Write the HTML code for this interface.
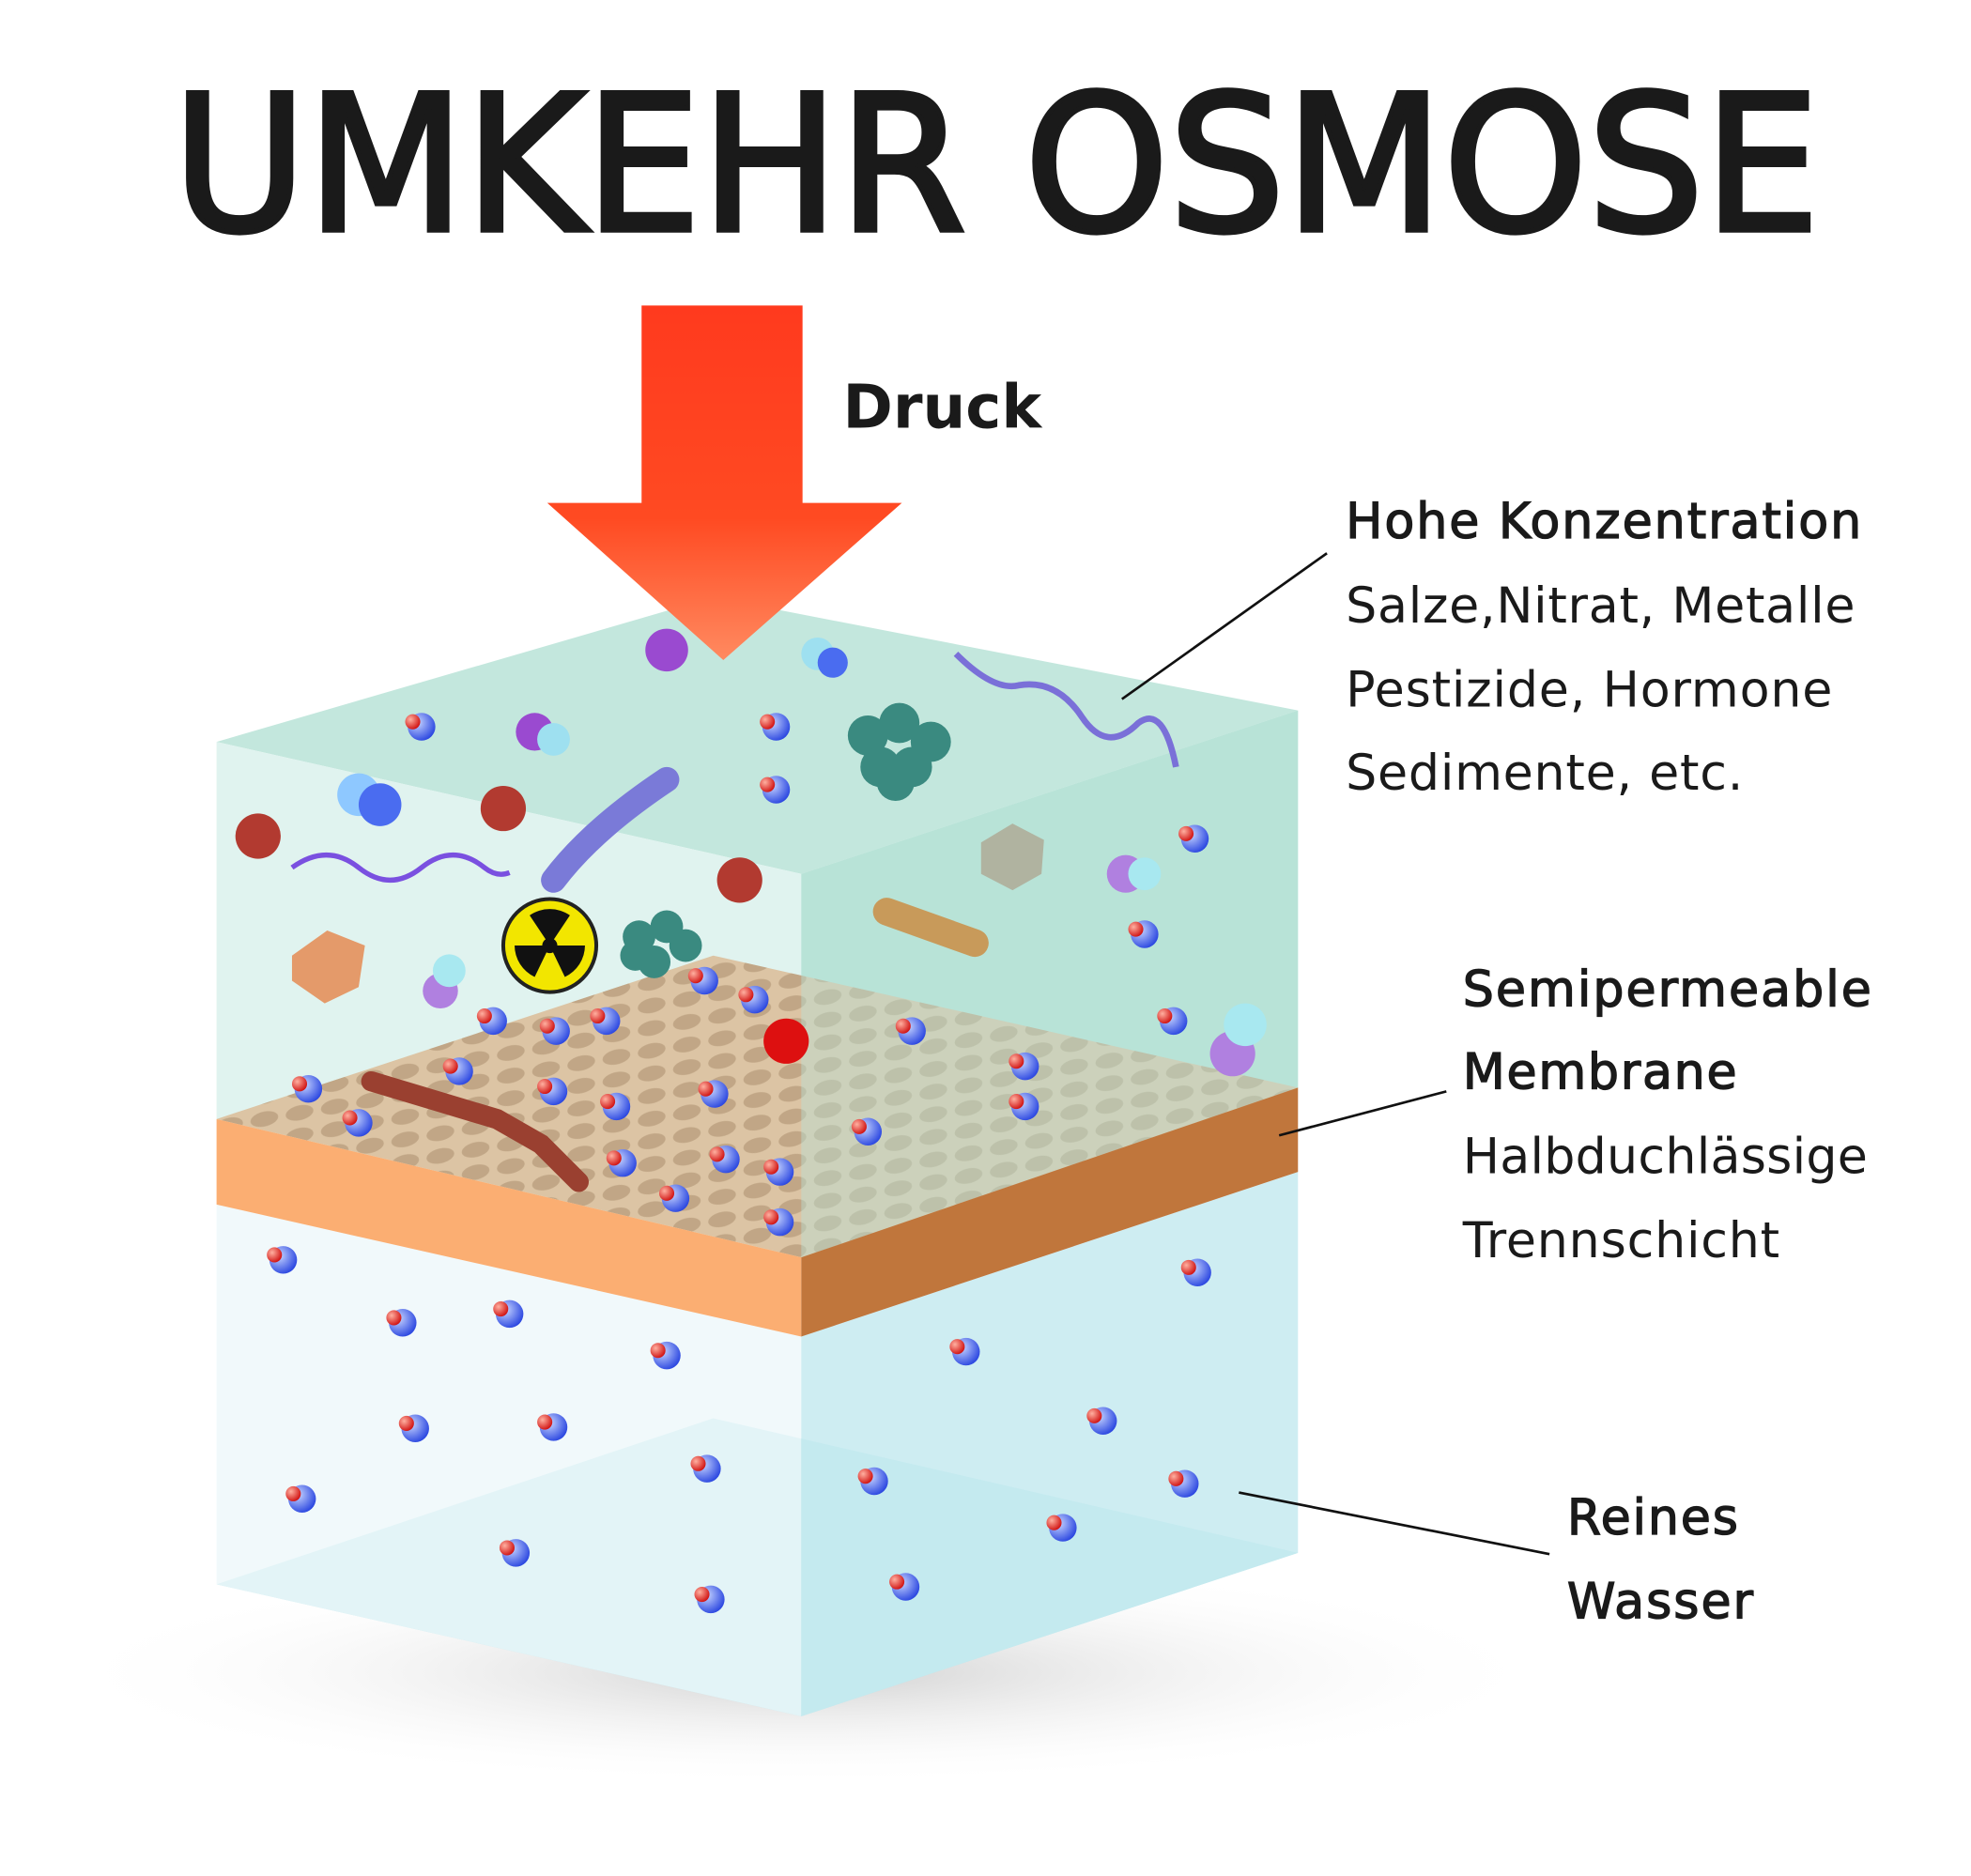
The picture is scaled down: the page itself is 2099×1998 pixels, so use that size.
<!DOCTYPE html>
<html><head><meta charset="utf-8"><style>
html,body{margin:0;padding:0;background:#fff}
svg{display:block}
text{font-family:"DejaVu Sans","Liberation Sans",sans-serif;fill:#1a1a1a}
</style></head><body>
<svg width="2099" height="1998" viewBox="0 0 1567 1492" xmlns="http://www.w3.org/2000/svg">
<defs>
<linearGradient id="ar" x1="0" y1="0" x2="0" y2="1">
<stop offset="0" stop-color="#ff3a1e"/><stop offset="0.6" stop-color="#ff4a22"/><stop offset="1" stop-color="#ff8a60"/></linearGradient>
<radialGradient id="sh" cx="0.5" cy="0.5" r="0.5"><stop offset="0" stop-color="#bbb" stop-opacity="0.7"/><stop offset="1" stop-color="#fff" stop-opacity="0"/></radialGradient>
<radialGradient id="bl" cx="0.35" cy="0.35" r="0.7"><stop offset="0" stop-color="#c8d6ff"/><stop offset="1" stop-color="#2a46e0"/></radialGradient>
<radialGradient id="rd" cx="0.35" cy="0.35" r="0.7"><stop offset="0" stop-color="#ffb0a0"/><stop offset="1" stop-color="#d01010"/></radialGradient>
<pattern id="holes" width="28" height="18" patternUnits="userSpaceOnUse" patternTransform="skewY(-10)">
<ellipse cx="14" cy="9" rx="11" ry="6" fill="#b59a7a" opacity="0.7"/></pattern>
<g id="m"><circle r="11" fill="url(#bl)"/><circle cx="-7" cy="-4" r="6" fill="url(#rd)"/></g>
</defs>
<ellipse cx="640" cy="1330" rx="600" ry="90" fill="url(#sh)"/>
<text x="792" y="183" font-size="150" stroke="#1a1a1a" stroke-width="4" text-anchor="middle" textLength="1310" lengthAdjust="spacingAndGlyphs">UMKEHR OSMOSE</text>
<polygon points="172,1260 567,1128 1032,1235 637,1365" fill="#b8e6ec"/>
<polygon points="172,958 637,1063 637,1365 172,1260" fill="#eef8fa" opacity="0.8"/>
<polygon points="637,1063 1032,932 1032,1235 637,1365" fill="#c6eaf0" opacity="0.85"/>
<polygon points="172,590 567,475 1032,565 637,695" fill="#c3e7dd"/>
<polygon points="172,590 637,695 637,1000 172,890" fill="#e0f3ef"/>
<polygon points="637,695 1032,565 1032,865 637,1000" fill="#b9e3d8"/>
<polygon points="172,890 567,760 1032,865 637,1000" fill="#dcc4a4"/>
<polygon points="172,890 567,760 1032,865 637,1000" fill="url(#holes)"/>
<polygon points="637,695 1032,565 1032,865 637,1000" fill="#b9e3d8" opacity="0.45"/>
<polygon points="172,890 637,1000 637,1063 172,958" fill="#fbae72"/>
<polygon points="637,1000 1032,865 1032,932 637,1063" fill="#c0763c"/>
<g>
<use href="#m" x="225" y="1002"/><use href="#m" x="320" y="1052"/><use href="#m" x="405" y="1045"/><use href="#m" x="530" y="1078"/><use href="#m" x="330" y="1136"/><use href="#m" x="440" y="1135"/><use href="#m" x="240" y="1192"/><use href="#m" x="410" y="1235"/><use href="#m" x="562" y="1168"/><use href="#m" x="565" y="1272"/><use href="#m" x="695" y="1178"/><use href="#m" x="720" y="1262"/><use href="#m" x="768" y="1075"/><use href="#m" x="845" y="1215"/><use href="#m" x="877" y="1130"/><use href="#m" x="942" y="1180"/><use href="#m" x="952" y="1012"/>
<use href="#m" x="335" y="578"/><use href="#m" x="617" y="578"/><use href="#m" x="617" y="628"/><use href="#m" x="950" y="667"/><use href="#m" x="910" y="743"/><use href="#m" x="933" y="812"/>
<use href="#m" x="392" y="812"/><use href="#m" x="442" y="820"/><use href="#m" x="482" y="812"/><use href="#m" x="560" y="780"/><use href="#m" x="600" y="795"/><use href="#m" x="245" y="866"/><use href="#m" x="285" y="893"/><use href="#m" x="365" y="852"/><use href="#m" x="440" y="868"/><use href="#m" x="490" y="880"/><use href="#m" x="568" y="870"/><use href="#m" x="577" y="922"/><use href="#m" x="537" y="953"/><use href="#m" x="620" y="972"/><use href="#m" x="620" y="932"/><use href="#m" x="495" y="925"/><use href="#m" x="815" y="848"/><use href="#m" x="815" y="880"/><use href="#m" x="725" y="820"/><use href="#m" x="690" y="900"/>
</g>
<circle cx="285" cy="632" r="17" fill="#8ec8ff"/><circle cx="302" cy="640" r="17" fill="#4a6cf0"/>
<circle cx="205" cy="665" r="18" fill="#b23a30"/><circle cx="400" cy="643" r="18" fill="#b23a30"/><circle cx="588" cy="700" r="18" fill="#b23a30"/><circle cx="625" cy="828" r="18" fill="#dd1010"/>
<circle cx="530" cy="517" r="17" fill="#9a4ad0"/><circle cx="425" cy="582" r="15" fill="#9a4ad0"/><circle cx="440" cy="588" r="13" fill="#9ee0f0"/><circle cx="895" cy="695" r="15" fill="#b080e0"/><circle cx="910" cy="695" r="13" fill="#a8e8f0"/><circle cx="980" cy="838" r="18" fill="#b080e0"/><circle cx="990" cy="815" r="17" fill="#a8e8f0"/><circle cx="350" cy="788" r="14" fill="#b080e0"/><circle cx="357" cy="772" r="13" fill="#a8e8f0"/><circle cx="650" cy="520" r="13" fill="#9ee0f0"/><circle cx="662" cy="527" r="12" fill="#4a6cf0"/>
<g fill="#3a8a80"><circle cx="690" cy="585" r="16"/><circle cx="715" cy="575" r="16"/><circle cx="740" cy="590" r="16"/><circle cx="700" cy="610" r="16"/><circle cx="725" cy="610" r="16"/><circle cx="712" cy="622" r="15"/><circle cx="508" cy="745" r="13"/><circle cx="530" cy="737" r="13"/><circle cx="545" cy="752" r="13"/><circle cx="520" cy="765" r="13"/><circle cx="505" cy="760" r="12"/></g>
<polygon points="232,760 260,740 290,752 285,785 258,798 232,780" fill="#e49a6a"/>
<polygon points="780,670 805,655 830,668 828,695 805,708 780,695" fill="#b0b3a0"/>
<path d="M440,700 Q470,660 530,620" stroke="#7a7ad8" stroke-width="20" stroke-linecap="round" fill="none"/>
<path d="M705,725 L775,750" stroke="#c89a5a" stroke-width="22" stroke-linecap="round" fill="none"/>
<path d="M295,860 L345,875 L395,890 L430,910 L460,940" stroke="#9a4030" stroke-width="16" stroke-linecap="round" fill="none"/>
<path d="M232,690 Q260,670 285,690 Q310,710 335,690 Q360,670 385,690 Q395,698 405,694" stroke="#7a50e0" stroke-width="4" fill="none"/>
<path d="M760,520 Q790,550 810,545 Q840,540 860,570 Q880,600 905,575 Q925,560 935,610" stroke="#7a70d8" stroke-width="5" fill="none"/>
<circle cx="437" cy="752" r="37" fill="#f2e600" stroke="#222" stroke-width="3"/>
<circle cx="437" cy="752" r="6" fill="#111"/>
<path d="M437,752 L421,728 A28,28 0 0 1 453,728 Z M437,752 L465,752 A28,28 0 0 1 449,777 Z M437,752 L425,777 A28,28 0 0 1 409,752 Z" fill="#111"/>
<polygon points="510,243 638,243 638,400 717,400 575,525 435,400 510,400" fill="url(#ar)"/>
<text x="670" y="340" font-size="48" font-weight="bold">Druck</text>
<g font-size="39">
<text x="1070" y="428" stroke="#1a1a1a" stroke-width="1" textLength="410">Hohe Konzentration</text>
<text x="1070" y="495" textLength="405">Salze,Nitrat, Metalle</text>
<text x="1070" y="562" textLength="387">Pestizide, Hormone</text>
<text x="1070" y="628" textLength="316">Sedimente, etc.</text>
<text x="1163" y="800" stroke="#1a1a1a" stroke-width="1" textLength="325">Semipermeable</text>
<text x="1163" y="866" stroke="#1a1a1a" stroke-width="1" textLength="218">Membrane</text>
<text x="1163" y="933" textLength="322">Halbduchlässige</text>
<text x="1163" y="1000" textLength="252">Trennschicht</text>
<text x="1246" y="1220" stroke="#1a1a1a" stroke-width="1" textLength="136">Reines</text>
<text x="1246" y="1287" stroke="#1a1a1a" stroke-width="1" textLength="148">Wasser</text>
</g>
<g stroke="#111" stroke-width="2"><line x1="1055" y1="440" x2="892" y2="556"/><line x1="1150" y1="868" x2="1017" y2="903"/><line x1="1232" y1="1236" x2="985" y2="1187"/></g>
</svg>
</body></html>
